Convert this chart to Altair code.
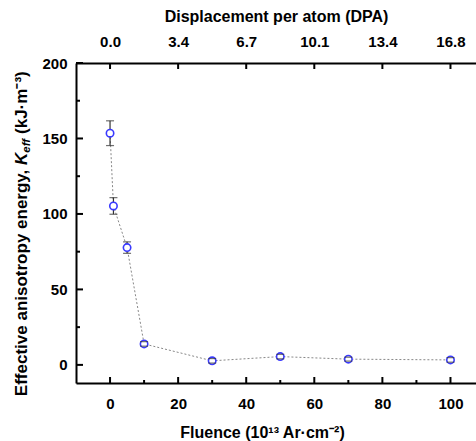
import altair as alt
import pandas as pd

# ---- data ----
fluence = [0, 1, 5, 10, 30, 50, 70, 100]
keff = [153.5, 105.3, 77.7, 13.9, 2.7, 5.5, 3.8, 3.3]
keff_err = [8.2, 5.5, 3.8, 1.5, 1.5, 1.5, 1.3, 1.5]

x_major = [0, 20, 40, 60, 80, 100]
x_minor = [10, 30, 50, 70, 90]
y_major = [0, 50, 100, 150, 200]
y_minor = [25, 75, 125, 175]
dpa_labels = ["0.0", "3.4", "6.7", "10.1", "13.4", "16.8"]

X_DOMAIN = [-10, 107.5]
Y_DOMAIN = [-12, 200]
W, H = 400, 320
FONT = "Liberation Sans"

df = pd.DataFrame({"f": fluence, "k": keff, "err": keff_err})
df["lo"] = df["k"] - df["err"]
df["hi"] = df["k"] + df["err"]

xs = alt.Scale(domain=X_DOMAIN, nice=False, zero=False)
ys = alt.Scale(domain=Y_DOMAIN, nice=False, zero=False)

axis_common = dict(
    domainColor="black", domainWidth=2, ticks=False, tickSize=0, grid=False,
    labelFont=FONT, labelFontWeight="bold", labelFontSize=15, labelColor="black",
    titleFont=FONT, titleFontWeight="bold", titleFontSize=16, titleColor="black",
)

base = alt.Chart(df)

line = base.mark_line(color="#888888", strokeWidth=1, strokeDash=[2, 2]).encode(
    x=alt.X("f:Q", scale=xs,
            axis=alt.Axis(values=x_major, title="Fluence (10¹³ Ar·cm⁻²)",
                          labelPadding=13, titleX=186, titleY=49,
                          titleBaseline="middle", **axis_common)),
    y=alt.Y("k:Q", scale=ys,
            axis=alt.Axis(values=y_major, title=None, labelPadding=9, **axis_common)),
)

err_rule = base.mark_rule(color="#333333", strokeWidth=1.2).encode(
    x=alt.X("f:Q", scale=xs, axis=None),
    y=alt.Y("lo:Q", scale=ys, axis=None),
    y2="hi:Q",
)

points = base.mark_point(shape="circle", size=55, filled=False, fill="white",
                         fillOpacity=1, color="#3a3aff", strokeWidth=1.6, opacity=1).encode(
    x=alt.X("f:Q", scale=xs, axis=None),
    y=alt.Y("k:Q", scale=ys, axis=None),
)

cap_lo = base.mark_tick(color="#333333", thickness=1.2, size=8, orient="horizontal").encode(
    x=alt.X("f:Q", scale=xs, axis=None),
    y=alt.Y("lo:Q", scale=ys, axis=None),
)
cap_hi = base.mark_tick(color="#333333", thickness=1.2, size=8, orient="horizontal").encode(
    x=alt.X("f:Q", scale=xs, axis=None),
    y=alt.Y("hi:Q", scale=ys, axis=None),
)

# inward tick marks
xmaj = pd.DataFrame({"v": x_major})
xmin = pd.DataFrame({"v": x_minor})
ymaj = pd.DataFrame({"v": y_major})
ymin = pd.DataFrame({"v": y_minor})

label_expr = "[" + ",".join("'%s'" % s for s in dpa_labels) + "][round(datum.value/20)]"

top_ticks = alt.Chart(xmaj).mark_rule(color="black", strokeWidth=2).encode(
    x=alt.X("v:Q", scale=xs,
            axis=alt.Axis(orient="top", values=x_major, labelExpr=label_expr,
                          title="Displacement per atom (DPA)", labelPadding=14,
                          titlePadding=10, **axis_common)),
    y=alt.value(0), y2=alt.value(6),
)
bot_major = alt.Chart(xmaj).mark_rule(color="black", strokeWidth=2).encode(
    x=alt.X("v:Q", scale=xs, axis=None), y=alt.value(H), y2=alt.value(H - 6),
)
bot_minor = alt.Chart(xmin).mark_rule(color="black", strokeWidth=2).encode(
    x=alt.X("v:Q", scale=xs, axis=None), y=alt.value(H), y2=alt.value(H - 3),
)
left_major = alt.Chart(ymaj).mark_rule(color="black", strokeWidth=2).encode(
    y=alt.Y("v:Q", scale=ys, axis=None), x=alt.value(0), x2=alt.value(7),
)
left_minor = alt.Chart(ymin).mark_rule(color="black", strokeWidth=2).encode(
    y=alt.Y("v:Q", scale=ys, axis=None), x=alt.value(0), x2=alt.value(4),
)

# y-axis title with italic K and subscript "eff"
TF = 17
GAP = 0.278 * TF
KW = 0.722 * TF
EW = 1.222 * 11.5
KY = 102
seg1 = alt.Chart(pd.DataFrame({"t": ["Effective anisotropy energy,"]})).mark_text(
    angle=270, align="right", baseline="middle", font=FONT, fontWeight="bold",
    fontSize=TF, color="black").encode(text="t:N", x=alt.value(-54), y=alt.value(KY + GAP))
seg2 = alt.Chart(pd.DataFrame({"t": ["K"]})).mark_text(
    angle=270, align="left", baseline="middle", font=FONT, fontWeight="bold",
    fontStyle="italic", fontSize=TF, color="black").encode(
    text="t:N", x=alt.value(-54), y=alt.value(KY))
seg3 = alt.Chart(pd.DataFrame({"t": ["eff"]})).mark_text(
    angle=270, align="left", baseline="middle", font=FONT, fontWeight="bold",
    fontStyle="italic", fontSize=11.5, color="black").encode(
    text="t:N", x=alt.value(-49), y=alt.value(KY - KW))
seg4 = alt.Chart(pd.DataFrame({"t": ["(kJ·m⁻³)"]})).mark_text(
    angle=270, align="left", baseline="middle", font=FONT, fontWeight="bold",
    fontSize=TF, color="black").encode(
    text="t:N", x=alt.value(-54), y=alt.value(KY - KW - EW - GAP))

chart = alt.layer(
    line, top_ticks, bot_major, bot_minor, left_major, left_minor,
    err_rule, points, cap_lo, cap_hi, seg1, seg2, seg3, seg4,
).resolve_axis(x="independent", y="independent").properties(
    width=W, height=H, autosize="none",
    padding={"left": 76, "top": 63, "right": 0, "bottom": 58},
).configure_view(stroke=None).configure(background="white")

chart.save("out.html", embed_options={"renderer": "svg", "actions": False})
